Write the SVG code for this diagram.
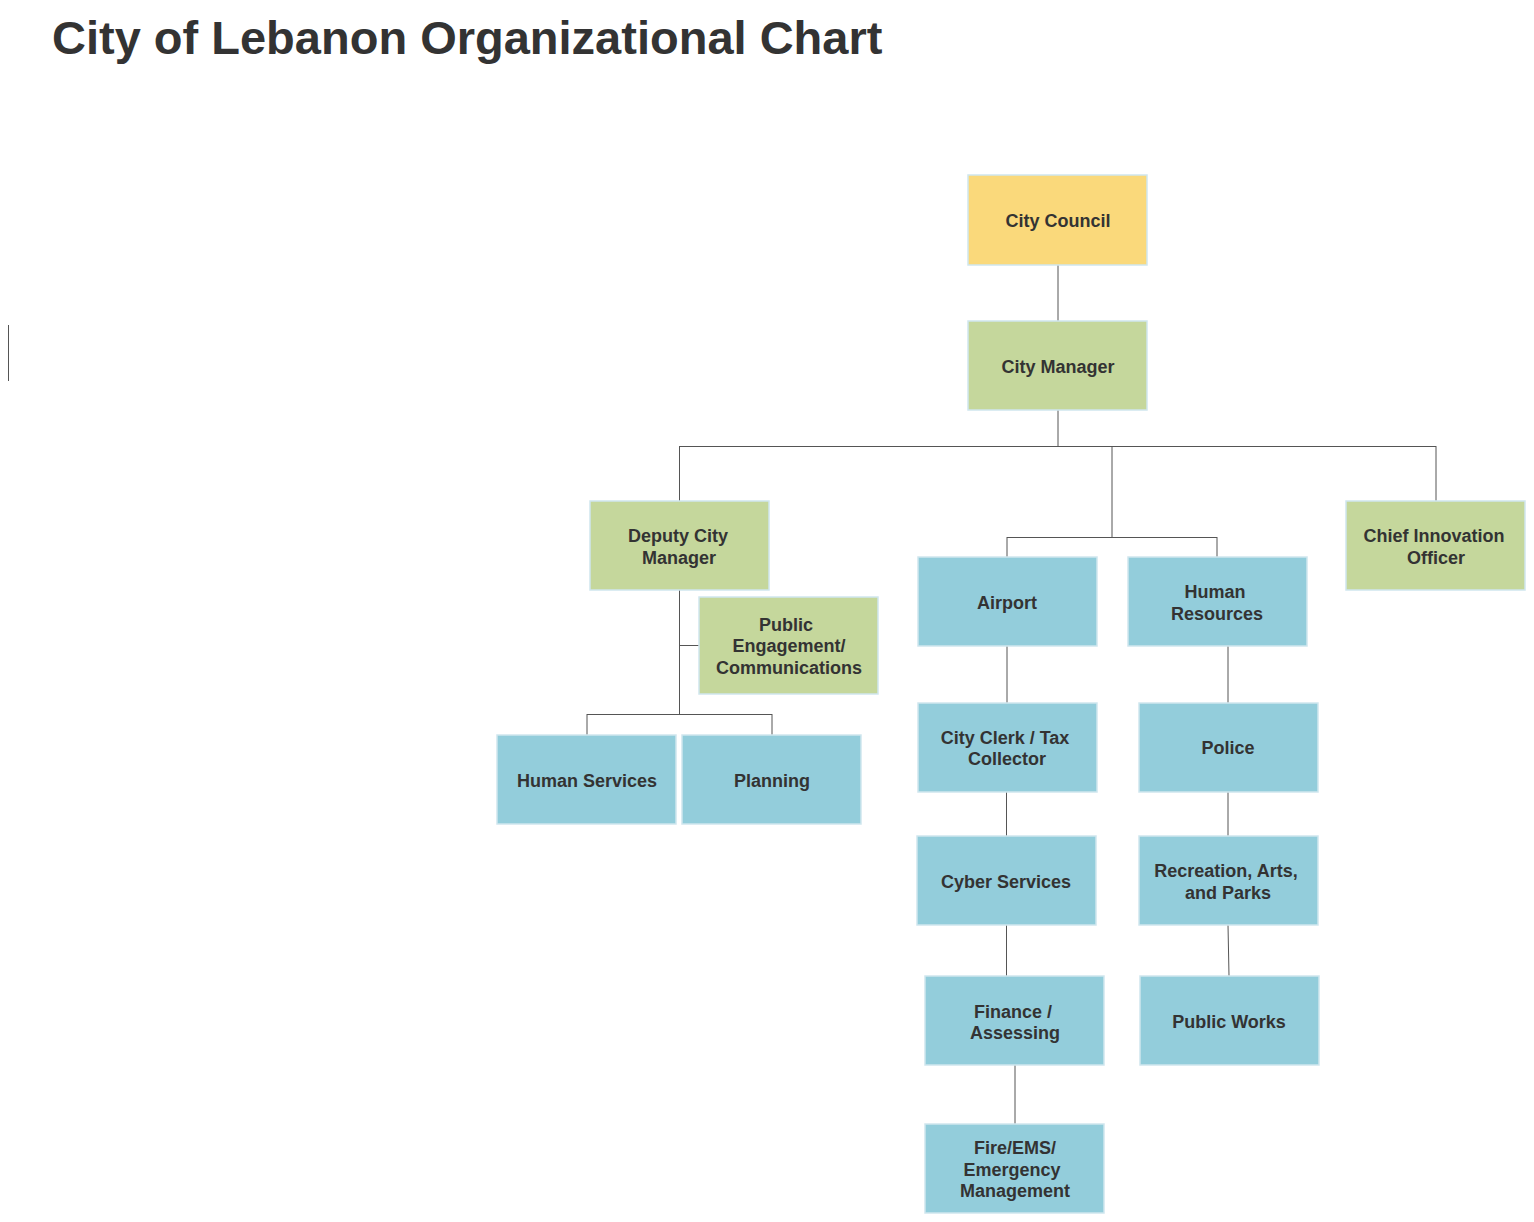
<svg xmlns="http://www.w3.org/2000/svg" width="1534" height="1222" viewBox="0 0 1534 1222">
<style>
.b{stroke:#cfe6ee;stroke-width:1.5}
.y{fill:#fad97b}.g{fill:#c5d79c}.c{fill:#93cddb}
text{font-family:"Liberation Sans",Arial,sans-serif;font-weight:bold;fill:#333;font-size:18px;text-anchor:middle}
#conn line{stroke:#555;stroke-width:1}
</style>
<rect width="1534" height="1222" fill="#fff"/>
<text x="52" y="54" style="font-size:47px;text-anchor:start">City of Lebanon Organizational Chart</text>
<line x1="8.5" y1="325" x2="8.5" y2="381" stroke="#555"/>
<g id="conn">
<line x1="1058" y1="265" x2="1058" y2="321"/><line x1="1058" y1="410" x2="1058" y2="446"/>
<line x1="679" y1="446.5" x2="1436" y2="446.5"/><line x1="679.5" y1="446" x2="679.5" y2="501"/><line x1="1436" y1="446" x2="1436" y2="501"/>
<line x1="1112" y1="446" x2="1112" y2="537"/><line x1="1007" y1="537.5" x2="1217" y2="537.5"/>
<line x1="1007" y1="537" x2="1007" y2="557"/><line x1="1217" y1="537" x2="1217" y2="557"/>
<line x1="679.5" y1="590" x2="679.5" y2="714"/><line x1="679" y1="645.5" x2="699" y2="645.5"/>
<line x1="587" y1="714.5" x2="772" y2="714.5"/><line x1="587" y1="714" x2="587" y2="735"/><line x1="772" y1="714" x2="772" y2="735"/>
<line x1="1007" y1="646" x2="1007" y2="703"/><line x1="1006.5" y1="792" x2="1006.5" y2="836"/><line x1="1006.5" y1="925" x2="1006.5" y2="976"/><line x1="1015" y1="1065" x2="1015" y2="1124"/>
<line x1="1228" y1="646" x2="1228" y2="703"/><line x1="1228" y1="792" x2="1228" y2="836"/><line x1="1228" y1="925" x2="1229" y2="976"/>
</g>
<g id="council"><rect class="b y" x="968" y="175" width="179" height="90"/><text x="1058" y="227">City Council</text></g>
<g id="manager"><rect class="b g" x="968" y="321" width="179" height="89"/><text x="1058" y="373">City Manager</text></g>
<g id="deputy"><rect class="b g" x="590" y="501" width="179" height="89"/><text x="678" y="542">Deputy City</text><text x="679" y="564">Manager</text></g>
<g id="chief"><rect class="b g" x="1346" y="501" width="179" height="89"/><text x="1434" y="542">Chief Innovation</text><text x="1436" y="564">Officer</text></g>
<g id="airport"><rect class="b c" x="918" y="557" width="179" height="89"/><text x="1007" y="609">Airport</text></g>
<g id="hr"><rect class="b c" x="1128" y="557" width="179" height="89"/><text x="1215" y="598">Human</text><text x="1217" y="620">Resources</text></g>
<g id="pec"><rect class="b g" x="699" y="597" width="179" height="97"/><text x="786" y="631">Public</text><text x="789" y="652">Engagement/</text><text x="789" y="674">Communications</text></g>
<g id="hs"><rect class="b c" x="497" y="735" width="179" height="89"/><text x="587" y="787">Human Services</text></g>
<g id="planning"><rect class="b c" x="682" y="735" width="179" height="89"/><text x="772" y="787">Planning</text></g>
<g id="clerk"><rect class="b c" x="918" y="703" width="179" height="89"/><text x="1005" y="744">City Clerk / Tax</text><text x="1007" y="765">Collector</text></g>
<g id="police"><rect class="b c" x="1139" y="703" width="179" height="89"/><text x="1228" y="754">Police</text></g>
<g id="cyber"><rect class="b c" x="917" y="836" width="179" height="89"/><text x="1006" y="888">Cyber Services</text></g>
<g id="rec"><rect class="b c" x="1139" y="836" width="179" height="89"/><text x="1226" y="877">Recreation, Arts,</text><text x="1228" y="899">and Parks</text></g>
<g id="finance"><rect class="b c" x="925" y="976" width="179" height="89"/><text x="1013" y="1018">Finance /</text><text x="1015" y="1039">Assessing</text></g>
<g id="pw"><rect class="b c" x="1140" y="976" width="179" height="89"/><text x="1229" y="1028">Public Works</text></g>
<g id="fire"><rect class="b c" x="925" y="1124" width="179" height="89"/><text x="1015" y="1154">Fire/EMS/</text><text x="1012" y="1176">Emergency</text><text x="1015" y="1197">Management</text></g>
</svg>
